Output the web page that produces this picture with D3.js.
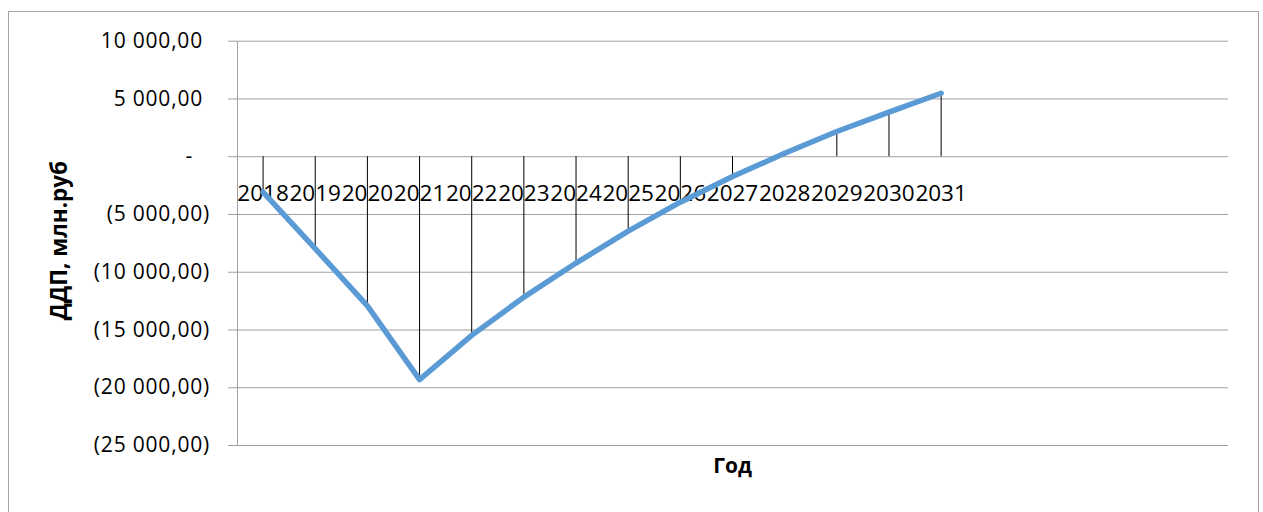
<!DOCTYPE html>
<html>
<head>
<meta charset="utf-8">
<script src="https://cdn.jsdelivr.net/npm/d3@7"></script>
<style>
  body { margin: 0; background: #fff; }
  text { font-family: "Open Sans", "Liberation Sans", sans-serif; fill: #000; }
</style>
</head>
<body>
<div id="chart"></div>
<script>
//data
var years = ["2018","2019","2020","2021","2022","2023","2024","2025","2026","2027","2028","2029","2030","2031"];
var values = [-3100, -8000, -12950, -19340, -15510, -12200, -9250, -6490, -3980, -1760, 250, 2140, 3810, 5450];
var emptySlots = ["","","","",""]; //the category axis keeps 5 blank places on the right
var yTicks = [10000, 5000, 0, -5000, -10000, -15000, -20000, -25000];

var categories = years.concat(emptySlots);

//setting dimensions and margins
var W = 1263, H = 512;
var margin = {top: 40.7, left: 237, right: 35, bottom: 67};
var width = W - margin.left - margin.right,
    height = H - margin.top - margin.bottom;

var svg = d3.select("#chart")
  .append("svg")
  .attr("width", W)
  .attr("height", H);

//outer chart border
svg.append("rect")
  .attr("x", 8.5).attr("y", 11.5)
  .attr("width", 1250).attr("height", 520)
  .attr("fill", "none")
  .attr("stroke", "#a6a6a6");

var g = svg.append("g")
  .attr("transform", "translate(" + margin.left + "," + margin.top + ")");

//scales
var x = d3.scaleBand().domain(d3.range(categories.length)).range([0, width]);
var y = d3.scaleLinear().domain([-25000, 10000]).range([height, 0]);

//number format like "10 000,00" / "(5 000,00)" / "-"
var ru = d3.formatLocale({decimal: ",", thousands: " ", grouping: [3], currency: ["", ""]});
var fmt = ru.format(",.2f");
function tickText(v) {
  if (v > 0) return fmt(v);
  if (v < 0) return "(" + fmt(-v) + ")";
  return "-";
}

//gridlines
g.append("g")
  .attr("class", "grid")
  .call(d3.axisLeft(y).tickValues(yTicks).tickSize(-width).tickFormat(""))
  .call(function(s) { s.select(".domain").remove(); })
  .selectAll(".tick line").attr("stroke", "#a0a0a0");

//value axis
var yAxis = g.append("g")
  .call(d3.axisLeft(y).tickValues(yTicks).tickSize(9).tickSizeOuter(0).tickPadding(25).tickFormat(tickText));
yAxis.select(".domain").attr("stroke", "#a0a0a0");
yAxis.selectAll(".tick line").attr("stroke", "#a0a0a0");
yAxis.selectAll(".tick text")
  .style("font-size", "21px")
  .style("letter-spacing", "0.8px")
  .attr("dx", function(d) { return d < 0 ? 7 : (d == 0 ? -10 : 0); });

//category labels (sit just under the zero line)
g.selectAll(".cat")
  .data(years)
  .enter().append("text")
  .attr("class", "cat")
  .attr("x", function(d, i) { return x(i) + x.bandwidth() / 2; })
  .attr("y", y(0) + 44.3)
  .attr("text-anchor", "middle")
  .style("font-size", "22.5px")
  .text(function(d) { return d; });

//drop lines from zero to each point
g.selectAll(".drop")
  .data(values)
  .enter().append("line")
  .attr("x1", function(d, i) { return x(i) + x.bandwidth() / 2; })
  .attr("x2", function(d, i) { return x(i) + x.bandwidth() / 2; })
  .attr("y1", y(0))
  .attr("y2", function(d) { return y(d); })
  .attr("stroke", "#000")
  .attr("stroke-width", 1);

//series line
var line = d3.line()
  .x(function(d, i) { return x(i) + x.bandwidth() / 2; })
  .y(function(d) { return y(d); });

g.append("path")
  .datum(values)
  .attr("d", line)
  .attr("fill", "none")
  .attr("stroke", "#5b9bd5")
  .attr("stroke-width", 5.5)
  .attr("stroke-linejoin", "round")
  .attr("stroke-linecap", "round");

//axis titles
svg.append("text")
  .attr("transform", "translate(67," + (margin.top + y(-7300)) + ") rotate(-90)")
  .attr("text-anchor", "middle")
  .style("font-size", "22.5px")
  .style("font-weight", "bold")
  .text("ДДП, млн.руб");

svg.append("text")
  .attr("x", margin.left + width / 2)
  .attr("y", 473)
  .attr("text-anchor", "middle")
  .style("font-size", "21px")
  .style("font-weight", "bold")
  .text("Год");
</script>
</body>
</html>
